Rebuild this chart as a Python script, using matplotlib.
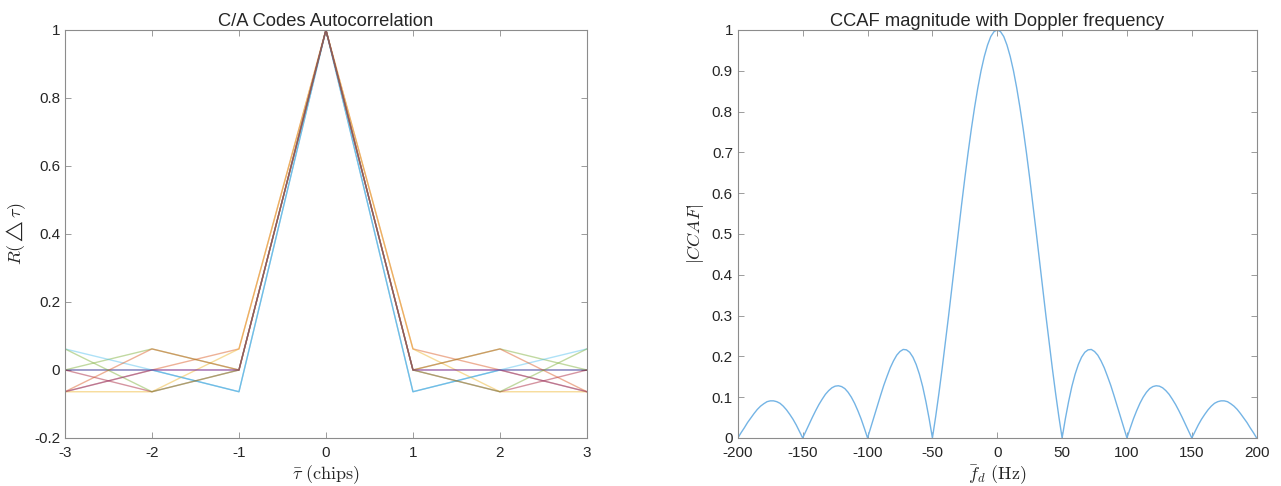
import matplotlib
matplotlib.use('Agg')
import matplotlib.pyplot as plt
import numpy as np

plt.rcParams['font.family'] = ['Liberation Sans', 'DejaVu Sans']
plt.rcParams['mathtext.fontset'] = 'cm'
plt.rcParams['axes.unicode_minus'] = False

# C/A code autocorrelation, one-sided values at lags 1, 2, 3 (mirrored for negative lags)
lags = [-3, -2, -1, 0, 1, 2, 3]
code_r = [
    [-0.064, 0.0, 0.0],
    [0.062, 0.0, -0.064],
    [0.062, -0.064, -0.064],
    [0.0, 0.0, 0.0],
    [0.0, 0.062, 0.0],
    [-0.064, 0.0, 0.062],
    [0.0, -0.064, 0.0],
    [0.0, 0.062, -0.064],
    [0.0, -0.064, 0.062],
    [0.0, 0.0, -0.064],
]
code_colors = ['#0072BD', '#D95319', '#EDB120', '#7E2F8E', '#77AC30',
               '#4DBEEE', '#A2142F', '#D95319', '#77AC30', '#7E2F8E']

# CCAF magnitude read every 2.5 Hz from 0 to 200 Hz (curve is symmetric)
f_half = np.arange(0, 202.5, 2.5)
ccaf_half = [1.0, 0.996, 0.984, 0.963, 0.935, 0.900, 0.858, 0.810, 0.757, 0.699,
             0.637, 0.572, 0.505, 0.436, 0.368, 0.300, 0.234, 0.170, 0.109, 0.052,
             0.0, 0.047, 0.089, 0.126, 0.156, 0.180, 0.198, 0.210, 0.216, 0.217,
             0.212, 0.203, 0.189, 0.172, 0.151, 0.129, 0.104, 0.078, 0.052, 0.026,
             0.0, 0.024, 0.047, 0.067, 0.085, 0.100, 0.112, 0.121, 0.126, 0.128,
             0.127, 0.123, 0.116, 0.107, 0.095, 0.082, 0.067, 0.051, 0.034, 0.017,
             0.0, 0.016, 0.032, 0.046, 0.058, 0.069, 0.078, 0.085, 0.089, 0.091,
             0.091, 0.089, 0.084, 0.078, 0.070, 0.060, 0.049, 0.038, 0.025, 0.013,
             0.0]

freqs = np.concatenate([-f_half[::-1], f_half[1:]])
ccaf = ccaf_half[::-1] + ccaf_half[1:]

axis_gray = '#262626'


def style_axes(ax):
    for s in ax.spines.values():
        s.set_color('#8c8c8c')
        s.set_linewidth(0.8)
    ax.tick_params(direction='in', top=True, right=True, length=4,
                   width=0.6, color='#8c8c8c', labelsize=11, labelcolor=axis_gray)
    ax.tick_params(axis='x', pad=6)


fig = plt.figure(figsize=(12.81, 4.86), dpi=100)

ax1 = fig.add_axes([0.0507, 0.0988, 0.4075, 0.8395])
for r, c in zip(code_r, code_colors):
    vals = r[::-1] + [1.0] + r
    ax1.plot(lags, vals, color=c, lw=1.0, alpha=0.45)
ax1.set_xlim(-3, 3)
ax1.set_ylim(-0.2, 1)
ax1.set_xticks(np.arange(-3, 4, 1))
ax1.set_yticks(np.arange(-0.2, 1.01, 0.2))
ax1.set_yticklabels(['-0.2', '0', '0.2', '0.4', '0.6', '0.8', '1'])
ax1.set_xticklabels(['-3', '-2', '-1', '0', '1', '2', '3'])
ax1.set_title('C/A Codes Autocorrelation', fontsize=13.2, color=axis_gray, pad=3)
ax1.set_xlabel(r'$\bar{\tau}\ \mathrm{(chips)}$', fontsize=13, color=axis_gray, labelpad=2)
ax1.set_ylabel(r'$R(\triangle\tau)$', fontsize=13, color=axis_gray)
style_axes(ax1)

ax2 = fig.add_axes([0.576, 0.0988, 0.405, 0.8395])
ax2.plot(freqs, ccaf, color='#74b4e5', lw=1.0)
ax2.set_xlim(-200, 200)
ax2.set_ylim(0, 1)
ax2.set_xticks(np.arange(-200, 201, 50))
ax2.set_yticks(np.arange(0, 1.01, 0.1))
ax2.set_yticklabels(['0', '0.1', '0.2', '0.3', '0.4', '0.5', '0.6', '0.7', '0.8', '0.9', '1'])
ax2.set_title('CCAF magnitude with Doppler frequency', fontsize=13.2, color=axis_gray, pad=3)
ax2.set_xlabel(r'$\bar{f}_d\ \mathrm{(Hz)}$', fontsize=13, color=axis_gray, labelpad=2)
ax2.set_ylabel(r'$|CCAF|$', fontsize=13, color=axis_gray)
style_axes(ax2)

fig.savefig('out.png', dpi=100)
